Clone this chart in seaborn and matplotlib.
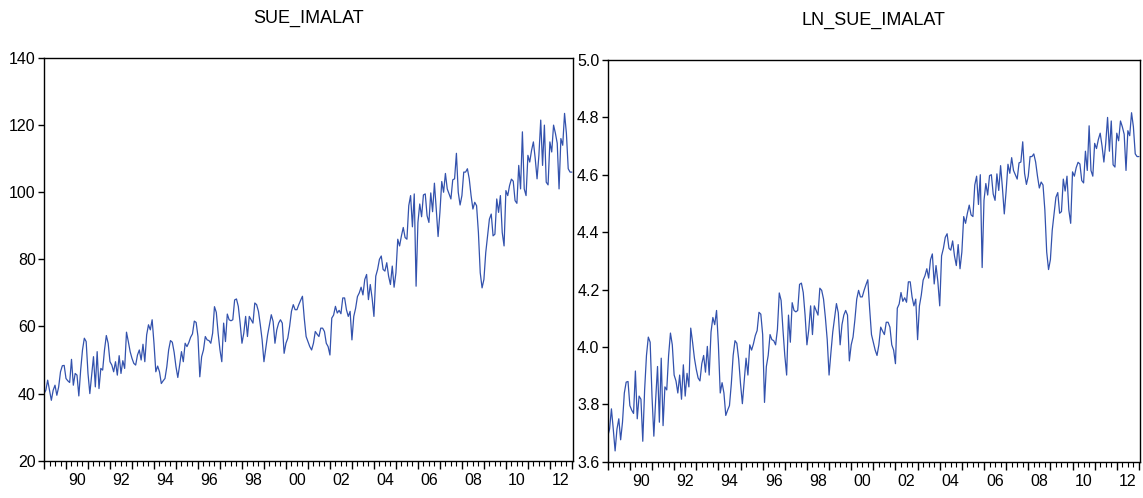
import numpy as np
import matplotlib
matplotlib.use("Agg")
import matplotlib.pyplot as plt
import seaborn as sns
from matplotlib.ticker import MultipleLocator, FuncFormatter

# aylik seri, 1989:01'den baslar
start_year = 1989
sue_imalat = [
    40, 41, 44, 41, 38, 41, 42.5, 39.5, 42, 46.5,
    48.3, 48.4, 44.5, 43.8, 43.3, 50.2, 42.5, 46, 45.5, 39.3,
    47, 53, 56.5, 55.5, 46, 40, 45.5, 51, 42, 52.5,
    41.5, 47.5, 47, 53, 57.3, 55, 49.5, 48.5, 46.5, 49.5,
    45.5, 51.3, 46, 49.8, 47.5, 58.3, 55.5, 52.5, 50.5, 49,
    48.5, 51.5, 53, 50, 54.7, 49.5, 57.5, 60.5, 59,
    62, 55, 46.5, 48.2, 46.5, 43, 43.8, 44.5, 48, 53,
    55.8, 55.3, 52.3, 48, 44.8, 48.5, 52.5, 49.5, 55, 54,
    55.2, 56.8, 57.8, 61.6, 61.2, 57, 45, 51, 53, 57,
    56, 55.8, 55, 58, 65.9, 64.2, 58, 53, 49.5, 61,
    55.5, 63.7, 62, 61.7, 62, 67.9, 68.2, 66, 61, 55,
    58, 63, 57, 63, 62, 61, 67,
    66.5, 64.5, 60.5, 56, 49.5, 53.5, 57.5, 60.5, 63.5, 61.5,
    55, 59, 61, 62, 61, 52, 55, 56.5, 60, 64.5,
    66.5, 65, 65, 66.5, 67.8, 69, 62.4, 57, 55.5, 54,
    53, 55, 58.5, 57.7, 57, 59.5, 59.5, 58.5, 55, 54,
    51.5, 62.5, 63.4, 66, 64, 64.8, 63.8, 68.5, 68.5, 65,
    63, 64.5, 56, 63,
    65.4, 68.9, 70, 71.7, 69.4, 74, 75.5, 68, 72.5, 68.5,
    63, 75, 77, 80, 81, 77, 76.5, 79, 75, 72.5,
    78, 71.7, 76, 86, 84, 87, 89.5, 86.5, 86, 96,
    99, 89.7, 99.5, 72, 91, 96.5, 92.7, 99.2, 99.5, 93,
    91, 99.8, 94.2, 102.7, 95, 86.8, 94, 103.2, 100, 105.6,
    101, 99.5, 98, 103.7, 104, 111.6,
    100, 96.2, 99, 106, 106, 107, 104, 99, 95, 97,
    96, 88, 76, 71.5, 74, 82, 87, 92, 93.5, 87,
    87.5, 98, 94, 99, 88, 84, 100.5, 99, 102, 103.9,
    103.3, 97.5, 96.7, 108, 101, 118, 101, 99, 111, 109,
    112.5, 115, 110, 104, 111, 121.5, 108, 120, 103, 102.2,
    115, 112, 120, 117.6, 114.6, 101, 116, 114, 123.5, 117.6,
    107, 106, 106,
]
ln_sue_imalat = np.log(sue_imalat)

titles = ["SUE_IMALAT", "LN_SUE_IMALAT"]
y_limits = [(20, 140), (3.6, 5.0)]
y_steps = [20, 0.2]
y_formats = ["{:.0f}", "{:.1f}"]

t = start_year + np.arange(len(sue_imalat)) / 12.0

sns.set_style("ticks")
plt.rcParams["font.family"] = ["Liberation Sans Narrow", "Liberation Sans", "DejaVu Sans"]
plt.rcParams["text.color"] = "black"
plt.rcParams["xtick.color"] = "black"
plt.rcParams["ytick.color"] = "black"
plt.rcParams["axes.labelcolor"] = "black"

fig = plt.figure(figsize=(11.43, 4.98), dpi=100)
axes = [fig.add_axes([0.0385, 0.0749, 0.4628, 0.8086]),
        fig.add_axes([0.5317, 0.0729, 0.4657, 0.8066])]


def year_label(x, pos):
    y = x - 0.5
    if abs(y - round(y)) < 1e-6 and int(round(y)) % 2 == 0:
        return "{:02d}".format(int(round(y)) % 100)
    return ""


for ax, series, title, ylim, step, fmt in zip(axes, [sue_imalat, ln_sue_imalat],
                                              titles, y_limits, y_steps, y_formats):
    sns.lineplot(x=t, y=series, ax=ax, color="#3352ad", linewidth=0.9)
    ax.set_xlim(start_year, t[-1] + 0.05)
    ax.set_ylim(*ylim)
    ax.yaxis.set_major_locator(MultipleLocator(step))
    ax.yaxis.set_major_formatter(FuncFormatter(lambda v, p, f=fmt: f.format(v)))
    ax.xaxis.set_major_locator(MultipleLocator(1))
    ax.xaxis.set_major_formatter(FuncFormatter(lambda v, p: ""))
    ax.xaxis.set_minor_locator(MultipleLocator(0.25))
    ax.xaxis.set_minor_formatter(FuncFormatter(year_label))
    ax.tick_params(axis="x", which="major", length=6, width=1, direction="out")
    ax.tick_params(axis="x", which="minor", length=3.5, width=0.8, direction="out",
                   labelsize=11.5, pad=5)
    ax.tick_params(axis="y", length=4, width=1, labelsize=11.5, pad=2)
    for s in ax.spines.values():
        s.set_visible(True)
        s.set_linewidth(1.0)
        s.set_color("black")
    ax.set_title(title, fontsize=13, pad=25, color="black")
    ax.set_xlabel("")
    ax.set_ylabel("")

fig.savefig("out.png", dpi=100)
